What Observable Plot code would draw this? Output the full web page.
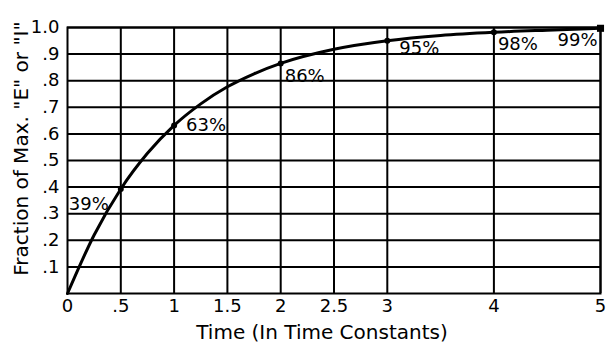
<!DOCTYPE html>
<html><head><meta charset="utf-8">
<script src="https://cdn.jsdelivr.net/npm/d3@7"></script>
<script src="https://cdn.jsdelivr.net/npm/@observablehq/plot@0.6"></script>
<style>body{margin:0;background:#fff}</style>
</head><body><div id="c"></div>
<script>
const xTicks = [0, 0.5, 1, 1.5, 2, 2.5, 3, 4, 5];
const yTicks = [0.1, 0.2, 0.3, 0.4, 0.5, 0.6, 0.7, 0.8, 0.9, 1.0];
const curveT = [0, 0.25, 0.5, 0.75, 1, 1.25, 1.5, 1.75, 2, 2.5, 3, 3.5, 4, 4.5, 5];
const curveV = [0, 0.22, 0.393, 0.527, 0.632, 0.713, 0.777, 0.826, 0.865, 0.918, 0.95, 0.97, 0.982, 0.99, 0.997];
const markT = [0.5, 1, 2, 3, 4, 5];
const markV = [0.393, 0.632, 0.865, 0.95, 0.982, 0.997];
const markLabels = ["39%", "63%", "86%", "95%", "98%", "99%"];
const labelDx = [-12, 12, 4, 12, 4, -3];
const labelDy = [15, 0, 13, 7, 12, 12];
const labelAnchor = ["end", "start", "start", "start", "start", "end"];

const curve = curveT.map((t, i) => ({t, v: curveV[i]}));
const marks = markT.map((t, i) => ({t, v: markV[i], label: markLabels[i], dx: labelDx[i], dy: labelDy[i], anchor: labelAnchor[i]}));

const fmtX = d => d === 0 ? "0" : (d < 1 ? ".5" : String(d));
const fmtY = d => d === 1 ? "1.0" : "." + Math.round(d * 10);

const labelMarks = marks.map(m => Plot.text([m], {x: "t", y: "v", text: "label", dx: m.dx, dy: m.dy, textAnchor: m.anchor, fontSize: 18}));

const chart = Plot.plot({
  width: 612, height: 353,
  marginLeft: 67, marginRight: 12, marginTop: 27, marginBottom: 60,
  x: {domain: [0, 5]},
  y: {domain: [0, 1]},
  style: {fontFamily: "DejaVu Sans", fontSize: "18px", color: "black", background: "white"},
  marks: [
    Plot.ruleX(xTicks.filter(d => d > 0), {stroke: "black", strokeWidth: 2}),
    Plot.ruleY(yTicks, {stroke: "black", strokeWidth: 2}),
    Plot.frame({stroke: "black", strokeWidth: 2}),
    Plot.axisX(xTicks, {tickSize: 0, tickPadding: 6, tickFormat: fmtX, fontSize: 18, label: null}),
    Plot.axisY(yTicks, {tickSize: 0, tickPadding: 8, tickFormat: fmtY, fontSize: 18, label: null}),
    Plot.text(["Time (In Time Constants)"], {frameAnchor: "bottom", textAnchor: "middle", dy: 45, dx: -12, fontSize: 20, letterSpacing: 1}),
    Plot.text(['Fraction of Max. "E" or "I"'], {frameAnchor: "left", textAnchor: "middle", dx: -46, dy: -12, rotate: -90, fontSize: 20, letterSpacing: 1.5}),
    Plot.line(curve, {x: "t", y: "v", curve: "monotone-x", stroke: "black", strokeWidth: 3}),
    Plot.dot(marks.slice(0, 5), {x: "t", y: "v", r: 3, fill: "black"}),
    Plot.dot(marks.slice(5), {x: "t", y: "v", r: 4, symbol: "square", fill: "black"}),
    ...labelMarks
  ]
});
document.getElementById("c").appendChild(chart);
</script>
</body></html>
